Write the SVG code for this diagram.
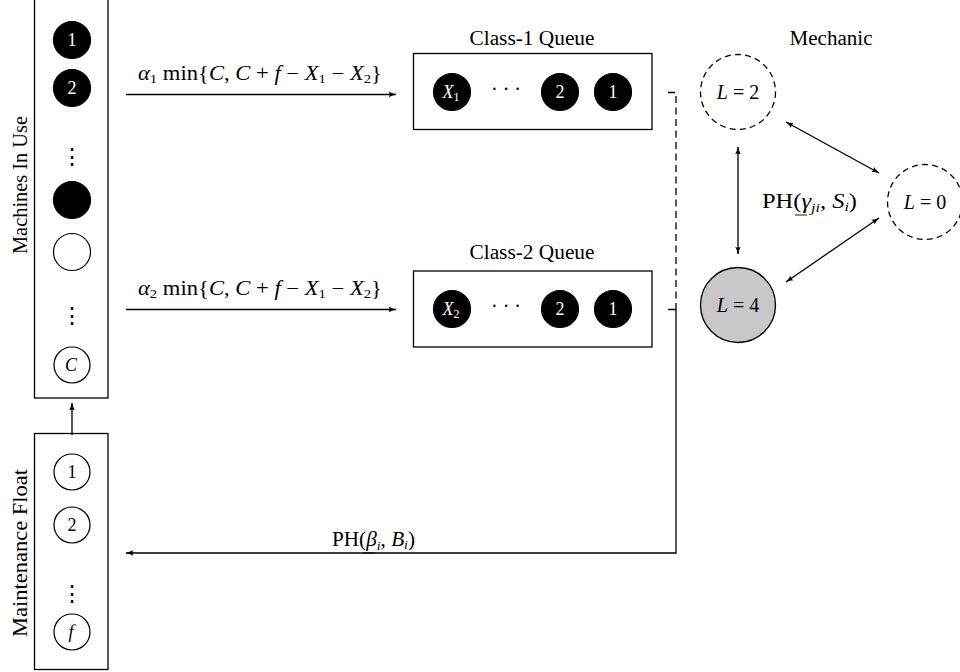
<svg xmlns="http://www.w3.org/2000/svg" width="960" height="672" viewBox="0 0 960 672">
  <defs>
    <marker id="arr" viewBox="0 0 10 8" refX="9" refY="4" markerWidth="8" markerHeight="6.4" orient="auto-start-reverse" markerUnits="userSpaceOnUse">
      <path d="M0,0.5 Q4,3 9.5,4 Q4,5 0,7.5 Q2,4 0,0.5 Z" fill="#000"/>
    </marker>
    <style>
      text { font-family: "Liberation Serif", "Times New Roman", serif; fill: #000; }
      .lbl { font-size: 20px; }
      .it { font-style: italic; }
      .num { font-size: 18px; text-anchor: middle; }
      .wnum { fill: #fff; }
      .box { fill: #fff; stroke: #000; stroke-width: 1.3; }
      .dot { fill: #000; stroke: #000; stroke-width: 1.2; }
      .ring { fill: #fff; stroke: #000; stroke-width: 1.2; }
      .dash { fill: #fff; stroke: #000; stroke-width: 1.3; stroke-dasharray: 6 4.2; }
      .line { fill: none; stroke: #000; stroke-width: 1.3; }
      .vdots { font-family: "DejaVu Serif", serif; font-size: 22px; text-anchor: middle; }
    </style>
  </defs>

  <!-- Machines in use -->
  <g id="machines-in-use">
    <rect class="box" x="34.5" y="-2" width="73.5" height="400"/>
    <text class="lbl" text-anchor="middle" textLength="138" lengthAdjust="spacingAndGlyphs" transform="translate(27,185) rotate(-90)">Machines In Use</text>
    <circle class="dot" cx="72" cy="40" r="18.5"/>
    <text class="num wnum" x="72" y="46">1</text>
    <circle class="dot" cx="72" cy="88" r="18.5"/>
    <text class="num wnum" x="72" y="94">2</text>
    <text class="vdots" x="72" y="164">⋮</text>
    <circle class="dot" cx="72" cy="200" r="18.5"/>
    <circle class="ring" cx="72" cy="252" r="18.5"/>
    <text class="vdots" x="72" y="323">⋮</text>
    <circle class="ring" cx="72" cy="365" r="18"/>
    <text class="num it" x="71" y="371">C</text>
  </g>

  <!-- Maintenance float -->
  <g id="maintenance-float">
    <rect class="box" x="34.5" y="433.5" width="73.5" height="236"/>
    <text class="lbl" text-anchor="middle" textLength="168" lengthAdjust="spacingAndGlyphs" transform="translate(27,553) rotate(-90)">Maintenance Float</text>
    <circle class="ring" cx="72" cy="472" r="18"/>
    <text class="num" x="72" y="478">1</text>
    <circle class="ring" cx="72" cy="525" r="18"/>
    <text class="num" x="72" y="531">2</text>
    <text class="vdots" x="72" y="601">⋮</text>
    <circle class="ring" cx="72" cy="632" r="18"/>
    <text class="num it" x="71" y="638">f</text>
  </g>

  <!-- Class-1 queue -->
  <g id="class1-queue">
    <text class="lbl" x="532" y="45" text-anchor="middle" textLength="125" lengthAdjust="spacingAndGlyphs">Class-1 Queue</text>
    <rect class="box" x="413.5" y="53.5" width="238.5" height="76"/>
    <circle class="dot" cx="452" cy="92" r="18.5"/>
    <text class="num wnum" x="451" y="98"><tspan class="it">X</tspan><tspan font-size="12" dy="3">1</tspan></text>
    <text class="lbl" x="506" y="96" text-anchor="middle">· · ·</text>
    <circle class="dot" cx="560" cy="92" r="18.5"/>
    <text class="num wnum" x="560" y="98">2</text>
    <circle class="dot" cx="613" cy="92" r="18.5"/>
    <text class="num wnum" x="613" y="98">1</text>
  </g>

  <!-- Class-2 queue -->
  <g id="class2-queue">
    <text class="lbl" x="532" y="259" text-anchor="middle" textLength="125" lengthAdjust="spacingAndGlyphs">Class-2 Queue</text>
    <rect class="box" x="413.5" y="271" width="238.5" height="76"/>
    <circle class="dot" cx="452" cy="309" r="18.5"/>
    <text class="num wnum" x="451" y="315"><tspan class="it">X</tspan><tspan font-size="12" dy="3">2</tspan></text>
    <text class="lbl" x="506" y="313" text-anchor="middle">· · ·</text>
    <circle class="dot" cx="560" cy="309" r="18.5"/>
    <text class="num wnum" x="560" y="315">2</text>
    <circle class="dot" cx="613" cy="309" r="18.5"/>
    <text class="num wnum" x="613" y="315">1</text>
  </g>

  <!-- Mechanic states -->
  <g id="mechanic">
    <text class="lbl" x="831" y="45" text-anchor="middle" textLength="83" lengthAdjust="spacingAndGlyphs">Mechanic</text>
  </g>
  <g id="state-l2">
    <circle class="dash" cx="738" cy="92" r="37.5"/>
    <text class="lbl" x="738" y="99" text-anchor="middle"><tspan class="it">L</tspan> = 2</text>
  </g>
  <g id="state-l0">
    <circle class="dash" cx="925" cy="202" r="37.5"/>
    <text class="lbl" x="925" y="209" text-anchor="middle"><tspan class="it">L</tspan> = 0</text>
  </g>
  <g id="state-l4">
    <circle fill="#c8c8c8" stroke="#000" stroke-width="1.3" cx="738" cy="305" r="37.5"/>
    <text class="lbl" x="738" y="312" text-anchor="middle"><tspan class="it">L</tspan> = 4</text>
  </g>

  <!-- Connectors -->
  <g id="connectors">
    <line class="line" x1="72" y1="435" x2="72" y2="403" marker-end="url(#arr)"/>
    <line class="line" x1="126" y1="94.5" x2="396" y2="94.5" marker-end="url(#arr)"/>
    <line class="line" x1="126" y1="309.5" x2="396" y2="309.5" marker-end="url(#arr)"/>
    <path class="line" d="M668,92.5 H676 V309" stroke-dasharray="7 4.5"/>
    <path class="line" d="M668,309.5 H676 V553 H126" marker-end="url(#arr)"/>
    <line class="line" x1="738" y1="147" x2="738" y2="254" marker-start="url(#arr)" marker-end="url(#arr)"/>
    <line class="line" x1="786" y1="122" x2="879" y2="173" marker-start="url(#arr)" marker-end="url(#arr)"/>
    <line class="line" x1="786" y1="282" x2="879" y2="218" marker-start="url(#arr)" marker-end="url(#arr)"/>
  </g>

  <!-- Rate labels -->
  <g id="labels">
    <text class="lbl" x="138" y="80" textLength="244" lengthAdjust="spacingAndGlyphs"><tspan class="it">α</tspan><tspan font-size="13" dy="3">1</tspan><tspan dy="-3"> min{</tspan><tspan class="it">C</tspan>, <tspan class="it">C</tspan> + <tspan class="it">f</tspan> − <tspan class="it">X</tspan><tspan font-size="13" dy="3">1</tspan><tspan dy="-3"> − </tspan><tspan class="it">X</tspan><tspan font-size="13" dy="3">2</tspan><tspan dy="-3">}</tspan></text>
    <text class="lbl" x="138" y="295" textLength="244" lengthAdjust="spacingAndGlyphs"><tspan class="it">α</tspan><tspan font-size="13" dy="3">2</tspan><tspan dy="-3"> min{</tspan><tspan class="it">C</tspan>, <tspan class="it">C</tspan> + <tspan class="it">f</tspan> − <tspan class="it">X</tspan><tspan font-size="13" dy="3">1</tspan><tspan dy="-3"> − </tspan><tspan class="it">X</tspan><tspan font-size="13" dy="3">2</tspan><tspan dy="-3">}</tspan></text>
    <text class="lbl" x="762" y="208" textLength="95" lengthAdjust="spacingAndGlyphs">PH(<tspan class="it">γ</tspan><tspan class="it" font-size="13" dy="4">ji</tspan><tspan dy="-4">, </tspan><tspan class="it">S</tspan><tspan class="it" font-size="13" dy="3">i</tspan><tspan dy="-3">)</tspan></text>
    <line x1="795" y1="215" x2="807" y2="215" stroke="#000" stroke-width="0.9"/>
    <text class="lbl" x="332" y="546" textLength="83" lengthAdjust="spacingAndGlyphs">PH(<tspan class="it">β</tspan><tspan class="it" font-size="13" dy="4">i</tspan><tspan dy="-4">, </tspan><tspan class="it">B</tspan><tspan class="it" font-size="13" dy="3">i</tspan><tspan dy="-3">)</tspan></text>
    <line x1="363" y1="553" x2="375" y2="553" stroke="#000" stroke-width="0.9"/>
  </g>
</svg>
